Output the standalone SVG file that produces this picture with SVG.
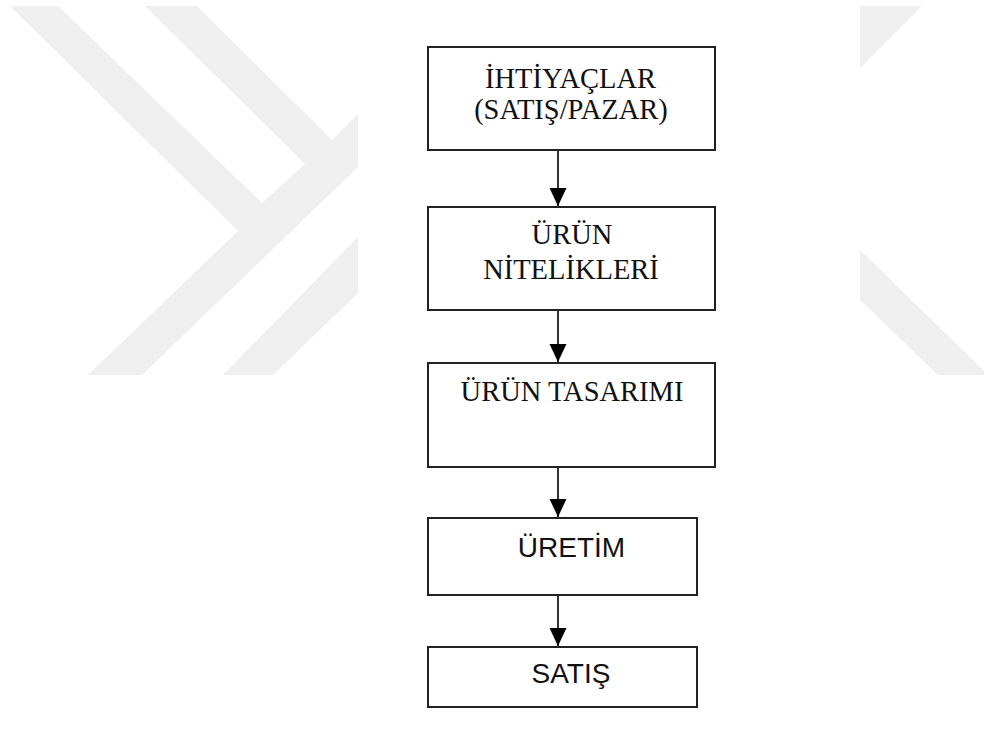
<svg xmlns="http://www.w3.org/2000/svg" width="984" height="729" viewBox="0 0 984 729">
  <defs>
    <style>
      .wm { fill: #efefef; }
      .box { fill: #ffffff; stroke: #222222; stroke-width: 2; }
      .edge { stroke: #000000; stroke-width: 1.6; fill: none; }
      .serif { font-family: "Liberation Serif", "Times New Roman", serif; font-size: 28.5px; fill: #111111; text-anchor: middle; }
      .sans { font-family: "Liberation Sans", Arial, sans-serif; font-size: 28px; fill: #111111; text-anchor: middle; }
    </style>
    <marker id="arrowhead" markerUnits="userSpaceOnUse" markerWidth="18" markerHeight="18"
            viewBox="0 0 17 16" refX="17" refY="8" orient="auto">
      <path d="M0,0 L17,8 L0,16 Z" fill="#000000"/>
    </marker>
  </defs>

  <rect x="0" y="0" width="984" height="729" fill="#ffffff"/>

  <!-- faint background emblem -->
  <g id="watermark">
    <polygon class="wm" points="10,6 58,6 262,203 305,164 145,6 197,6 332,140 358,114 358,167 142,375 88,375 238,231"/>
    <polygon class="wm" points="358,237 358,293 273,375 223,375"/>
    <polygon class="wm" points="860,6 922,6 860,68"/>
    <polygon class="wm" points="860,250 984,371 984,375 938,375 860,300"/>
  </g>

  <!-- connectors -->
  <g id="connectors">
    <line class="edge" x1="558" y1="151" x2="558" y2="206" marker-end="url(#arrowhead)"/>
    <line class="edge" x1="558" y1="311" x2="558" y2="362" marker-end="url(#arrowhead)"/>
    <line class="edge" x1="558" y1="467" x2="558" y2="517" marker-end="url(#arrowhead)"/>
    <line class="edge" x1="558" y1="596" x2="558" y2="646" marker-end="url(#arrowhead)"/>
  </g>

  <!-- process steps -->
  <g id="node-ihtiyaclar">
    <rect class="box" x="428" y="47" width="287" height="103"/>
    <text class="serif" x="570.5" y="88">İHTİYAÇLAR</text>
    <text class="serif" x="571" y="119">(SATIŞ/PAZAR)</text>
  </g>

  <g id="node-urun-nitelikleri">
    <rect class="box" x="428" y="207" width="287" height="103"/>
    <text class="serif" x="572" y="244">ÜRÜN</text>
    <text class="serif" x="571" y="279">NİTELİKLERİ</text>
  </g>

  <g id="node-urun-tasarimi">
    <rect class="box" x="428" y="363" width="287" height="104"/>
    <text class="serif" x="572" y="401">ÜRÜN TASARIMI</text>
  </g>

  <g id="node-uretim">
    <rect class="box" x="428" y="518" width="269" height="77"/>
    <text class="sans" x="571.5" y="557">ÜRETİM</text>
  </g>

  <g id="node-satis">
    <rect class="box" x="428" y="647" width="269" height="60"/>
    <text class="sans" x="571" y="683">SATIŞ</text>
  </g>
</svg>
